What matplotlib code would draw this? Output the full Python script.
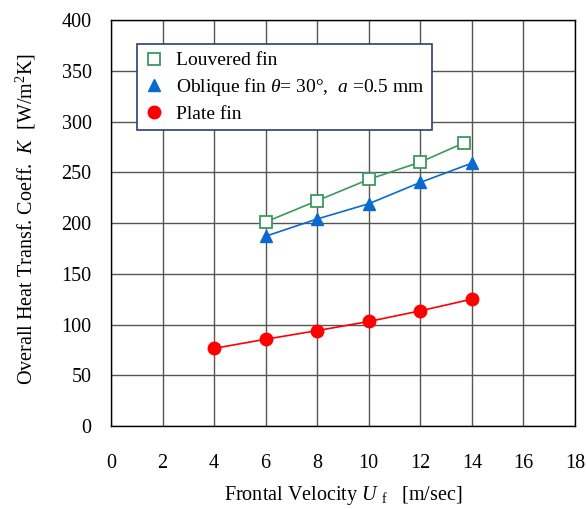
import matplotlib
matplotlib.use("Agg")
import matplotlib.pyplot as plt

plt.rcParams['font.family'] = ['Liberation Serif', 'DejaVu Serif']
plt.rcParams['mathtext.fontset'] = 'custom'
plt.rcParams['mathtext.rm'] = 'Liberation Serif'
plt.rcParams['mathtext.it'] = 'Liberation Serif:italic'

louvered_x = [6, 8, 10, 12, 13.7]
louvered_y = [201, 222, 243, 260, 279]
oblique_x = [6, 8, 10, 12, 14]
oblique_y = [187, 204, 219, 240, 259]
plate_x = [4, 6, 8, 10, 12, 14]
plate_y = [76.5, 85.5, 94, 103, 113.5, 125]

x_ticks = list(range(0, 19, 2))
y_ticks = list(range(0, 401, 50))

fig = plt.figure(figsize=(5.86, 5.09), dpi=100)
ax = fig.add_axes([0.1894, 0.163, 0.7918, 0.7977])

ax.plot(louvered_x, louvered_y, color='#3A9A5C', lw=1.2, marker='s', ms=8.5,
        mfc='white', mec='#3A9A5C', mew=1.3, label='Louvered fin', zorder=3)
ax.plot(oblique_x, oblique_y, color='#0A6AD0', lw=1.2, marker='^', ms=8.5,
        mfc='#0A6AD0', mec='#0A6AD0', label=r'Oblique fin $\theta$= 30°,  $a$ =0.5 mm', zorder=3)
ax.plot(plate_x, plate_y, color='#FF0000', lw=1.2, marker='o', ms=9,
        mfc='#FF0000', mec='#FF0000', label='Plate fin', zorder=3)

ax.set_xlim(0, 18)
ax.set_ylim(0, 400)
ax.set_xticks(x_ticks)
ax.set_yticks(y_ticks)
ax.grid(True, color='#555555', lw=1.0)
ax.set_axisbelow(True)
ax.tick_params(length=0, labelsize=14.5)
ax.tick_params(axis='y', pad=14)
ax.tick_params(axis='x', pad=20)
for s in ax.spines.values():
    s.set_color('black')
    s.set_linewidth(1.0)

ax.set_xlabel(r'Frontal Velocity $U$ $_{\mathrm{f}}$   [m/sec]', fontsize=14.5, va='center')
ax.xaxis.set_label_coords(0.5, -0.172)
ax.set_ylabel(r'Overall Heat Transf. Coeff.  $K$  [W/m$^2$K]', fontsize=14.5, va='center')
ax.yaxis.set_label_coords(-0.183, 0.51)

leg = ax.legend(loc='upper left', bbox_to_anchor=(0.056, 0.941), fontsize=14,
                frameon=True, fancybox=False, borderpad=0.4, handlelength=1.0,
                handletextpad=0.6, labelspacing=0.35, borderaxespad=0)
leg.get_frame().set_edgecolor('#2F3F70')
leg.get_frame().set_linewidth(1.2)
leg.get_frame().set_alpha(1)
for h in leg.legend_handles:
    h.set_linestyle('none')

fig.savefig('out.png', dpi=100)
